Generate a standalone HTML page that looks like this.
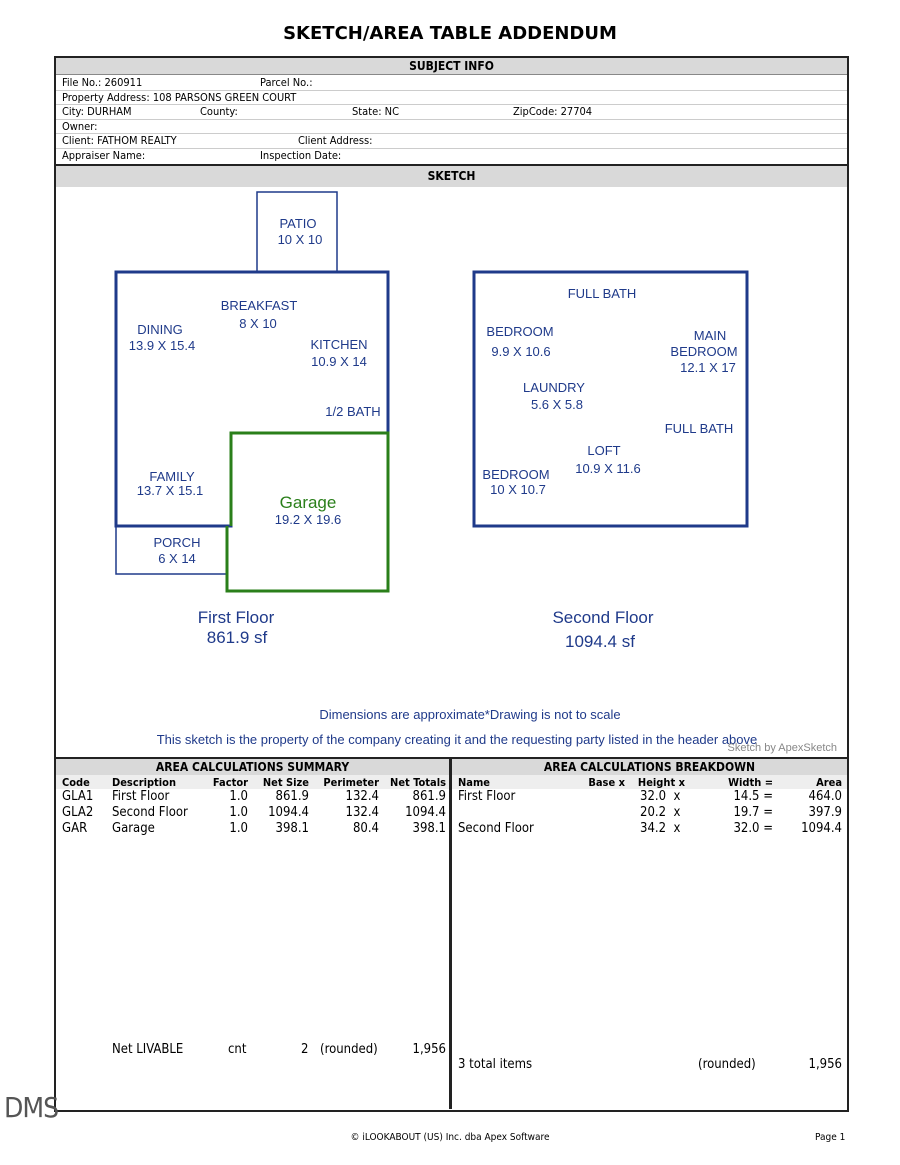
<!DOCTYPE html>
<html><head><meta charset="utf-8"><style>
body{margin:0;background:#fff;width:900px;height:1165px;position:relative;font-family:"DejaVu Sans Condensed","Liberation Sans",sans-serif;color:#000;overflow:hidden}
.a{position:absolute;white-space:nowrap;font-size:11px;line-height:12px}
.h{position:absolute;background:#d9d9d9;font-weight:bold;text-align:center;font-size:12px}
.l{position:absolute;background:#ccc;height:1px}
.r{text-align:right}
</style></head><body>
<div class="a" style="left:0;width:900px;top:24px;text-align:center;font-size:18px;line-height:20px;font-weight:bold;font-family:'DejaVu Sans','Liberation Sans',sans-serif">SKETCH/AREA TABLE ADDENDUM</div>
<div style="position:absolute;left:54px;top:56px;width:791px;height:1052px;border:2px solid #222"></div>
<div class="h" style="left:56px;top:58px;width:791px;height:16px;line-height:16px;border-bottom:1px solid #888">SUBJECT INFO</div>
<div class="a" style="left:62px;top:77px">File No.: 260911</div><div class="a" style="left:260px;top:77px">Parcel No.:</div>
<div class="l" style="left:56px;top:90px;width:791px"></div>
<div class="a" style="left:62px;top:92px">Property Address: 108 PARSONS GREEN COURT</div>
<div class="l" style="left:56px;top:104px;width:791px"></div>
<div class="a" style="left:62px;top:106px">City: DURHAM</div><div class="a" style="left:200px;top:106px">County:</div><div class="a" style="left:352px;top:106px">State: NC</div><div class="a" style="left:513px;top:106px">ZipCode: 27704</div>
<div class="l" style="left:56px;top:119px;width:791px"></div>
<div class="a" style="left:62px;top:121px">Owner:</div>
<div class="l" style="left:56px;top:133px;width:791px"></div>
<div class="a" style="left:62px;top:135px">Client: FATHOM REALTY</div><div class="a" style="left:298px;top:135px">Client Address:</div>
<div class="l" style="left:56px;top:148px;width:791px"></div>
<div class="a" style="left:62px;top:150px">Appraiser Name:</div><div class="a" style="left:260px;top:150px">Inspection Date:</div>
<div class="h" style="left:56px;top:164px;width:791px;height:21px;line-height:21px;border-top:2px solid #222">SKETCH</div>
<svg style="position:absolute;left:0;top:0" width="900" height="760" font-family="Liberation Sans,sans-serif" font-size="13" fill="#1f3a8a">
<g fill="none" stroke="#1f3a8a">
<rect x="257" y="192" width="80" height="80" stroke-width="1.5"/>
<rect x="116" y="526" width="111" height="48" stroke-width="1.5"/>
<polyline points="231,433 231,526 116,526 116,272 388,272 388,433" stroke-width="3"/>
<rect x="474" y="272" width="273" height="254" stroke-width="3"/>
</g>
<polyline points="231,526 231,433 388,433 388,591 227,591 227,526" fill="none" stroke="#2a7f1a" stroke-width="3"/>
<g text-anchor="middle">
<text x="298" y="228">PATIO</text><text x="300" y="244">10 X 10</text>
<text x="259" y="310">BREAKFAST</text><text x="258" y="328">8 X 10</text>
<text x="160" y="334">DINING</text><text x="162" y="350">13.9 X 15.4</text>
<text x="339" y="349">KITCHEN</text><text x="339" y="366">10.9 X 14</text>
<text x="353" y="416">1/2 BATH</text>
<text x="172" y="481">FAMILY</text><text x="170" y="495">13.7 X 15.1</text>
<text x="308" y="508" font-size="17" fill="#2a7f1a">Garage</text><text x="308" y="524">19.2 X 19.6</text>
<text x="177" y="547">PORCH</text><text x="177" y="563">6 X 14</text>
<text x="602" y="298">FULL BATH</text>
<text x="520" y="336">BEDROOM</text><text x="521" y="356">9.9 X 10.6</text>
<text x="710" y="340">MAIN</text><text x="704" y="356">BEDROOM</text><text x="708" y="372">12.1 X 17</text>
<text x="554" y="392">LAUNDRY</text><text x="557" y="409">5.6 X 5.8</text>
<text x="699" y="433">FULL BATH</text>
<text x="604" y="455">LOFT</text><text x="608" y="473">10.9 X 11.6</text>
<text x="516" y="479">BEDROOM</text><text x="518" y="494">10 X 10.7</text>
<text x="236" y="623" font-size="17">First Floor</text><text x="237" y="643" font-size="17">861.9 sf</text>
<text x="603" y="623" font-size="17">Second Floor</text><text x="600" y="647" font-size="17">1094.4 sf</text>
<text x="470" y="719">Dimensions are approximate*Drawing is not to scale</text>
<text x="457" y="744">This sketch is the property of the company creating it and the requesting party listed in the header above</text>
</g>
<text x="837" y="751" text-anchor="end" font-size="11" fill="#888">Sketch by ApexSketch</text>
</svg>
<div style="position:absolute;left:56px;top:757px;width:791px;height:2px;background:#222"></div>
<div class="h" style="left:56px;top:759px;width:393px;height:16px;line-height:16px">AREA CALCULATIONS SUMMARY</div>
<div class="h" style="left:452px;top:759px;width:395px;height:16px;line-height:16px">AREA CALCULATIONS BREAKDOWN</div>
<div style="position:absolute;left:56px;top:775px;width:393px;height:14px;background:#eee"></div>
<div style="position:absolute;left:452px;top:775px;width:395px;height:14px;background:#eee"></div>
<div style="position:absolute;left:449px;top:759px;width:3px;height:350px;background:#222"></div>
<div style="font-weight:bold">
<div class="a" style="left:62px;top:777px">Code</div><div class="a" style="left:112px;top:777px">Description</div>
<div class="a r" style="left:200px;width:48px;top:777px">Factor</div><div class="a r" style="left:250px;width:59px;top:777px">Net Size</div>
<div class="a r" style="left:310px;width:69px;top:777px">Perimeter</div><div class="a r" style="left:380px;width:66px;top:777px">Net Totals</div>
<div class="a" style="left:458px;top:777px">Name</div><div class="a r" style="left:540px;width:85px;top:777px">Base x</div>
<div class="a r" style="left:620px;width:65px;top:777px">Height x</div><div class="a r" style="left:700px;width:73px;top:777px">Width =</div>
<div class="a r" style="left:780px;width:62px;top:777px">Area</div>
</div>
<div style="font-size:13px">
<div class="a" style="left:62px;top:791px;font-size:13px">GLA1</div><div class="a" style="left:112px;top:791px;font-size:13px">First Floor</div><div class="a r" style="left:200px;width:48px;top:791px;font-size:13px">1.0</div><div class="a r" style="left:250px;width:59px;top:791px;font-size:13px">861.9</div><div class="a r" style="left:310px;width:69px;top:791px;font-size:13px">132.4</div><div class="a r" style="left:380px;width:66px;top:791px;font-size:13px">861.9</div>
<div class="a" style="left:62px;top:807px;font-size:13px">GLA2</div><div class="a" style="left:112px;top:807px;font-size:13px">Second Floor</div><div class="a r" style="left:200px;width:48px;top:807px;font-size:13px">1.0</div><div class="a r" style="left:250px;width:59px;top:807px;font-size:13px">1094.4</div><div class="a r" style="left:310px;width:69px;top:807px;font-size:13px">132.4</div><div class="a r" style="left:380px;width:66px;top:807px;font-size:13px">1094.4</div>
<div class="a" style="left:62px;top:823px;font-size:13px">GAR</div><div class="a" style="left:112px;top:823px;font-size:13px">Garage</div><div class="a r" style="left:200px;width:48px;top:823px;font-size:13px">1.0</div><div class="a r" style="left:250px;width:59px;top:823px;font-size:13px">398.1</div><div class="a r" style="left:310px;width:69px;top:823px;font-size:13px">80.4</div><div class="a r" style="left:380px;width:66px;top:823px;font-size:13px">398.1</div>
<div class="a" style="left:458px;top:791px;font-size:13px">First Floor</div><div class="a" style="left:640px;top:791px;font-size:13px">32.0 &nbsp;x</div><div class="a r" style="left:700px;width:73px;top:791px;font-size:13px">14.5 =</div><div class="a r" style="left:780px;width:62px;top:791px;font-size:13px">464.0</div>
<div class="a" style="left:640px;top:807px;font-size:13px">20.2 &nbsp;x</div><div class="a r" style="left:700px;width:73px;top:807px;font-size:13px">19.7 =</div><div class="a r" style="left:780px;width:62px;top:807px;font-size:13px">397.9</div>
<div class="a" style="left:458px;top:823px;font-size:13px">Second Floor</div><div class="a" style="left:640px;top:823px;font-size:13px">34.2 &nbsp;x</div><div class="a r" style="left:700px;width:73px;top:823px;font-size:13px">32.0 =</div><div class="a r" style="left:780px;width:62px;top:823px;font-size:13px">1094.4</div>
<div class="a" style="left:112px;top:1044px;font-size:13px">Net LIVABLE</div><div class="a" style="left:228px;top:1044px;font-size:13px">cnt</div><div class="a" style="left:301px;top:1044px;font-size:13px">2</div><div class="a" style="left:320px;top:1044px;font-size:13px">(rounded)</div><div class="a r" style="left:380px;width:66px;top:1044px;font-size:13px">1,956</div>
<div class="a" style="left:458px;top:1059px;font-size:13px">3 total items</div><div class="a" style="left:698px;top:1059px;font-size:13px">(rounded)</div><div class="a r" style="left:780px;width:62px;top:1059px;font-size:13px">1,956</div>
</div>
<div class="a" style="left:4px;top:1093px;font-size:28px;line-height:30px;color:#555;font-weight:100;letter-spacing:-1px">DMS</div>
<div class="a" style="left:0;width:900px;text-align:center;top:1132px;font-size:10px">© iLOOKABOUT (US) Inc. dba Apex Software</div>
<div class="a" style="left:815px;top:1132px;font-size:10px">Page 1</div>
</body></html>
